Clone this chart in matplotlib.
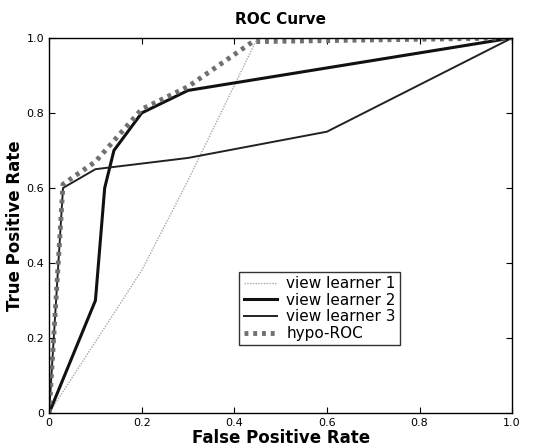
import matplotlib
matplotlib.use("Agg")
import matplotlib.pyplot as plt

# ROC curve data
fpr_1 = [0.0, 0.1, 0.2, 0.3, 0.45, 1.0]
tpr_1 = [0.0, 0.19, 0.38, 0.62, 1.0, 1.0]

fpr_2 = [0.0, 0.1, 0.12, 0.14, 0.2, 0.3, 1.0]
tpr_2 = [0.0, 0.3, 0.6, 0.7, 0.8, 0.86, 1.0]

fpr_3 = [0.0, 0.03, 0.1, 0.3, 0.6, 1.0]
tpr_3 = [0.0, 0.6, 0.65, 0.68, 0.75, 1.0]

fpr_h = [0.0, 0.03, 0.1, 0.2, 0.3, 0.44, 1.0]
tpr_h = [0.0, 0.61, 0.67, 0.81, 0.87, 0.99, 1.0]

labels = ["view learner 1", "view learner 2", "view learner 3", "hypo-ROC"]
ticks = [0, 0.2, 0.4, 0.6, 0.8, 1.0]
tick_labels = ["0", "0.2", "0.4", "0.6", "0.8", "1.0"]

fig = plt.figure(figsize=(5.34, 4.46), dpi=100)
ax = fig.add_axes([0.092, 0.074, 0.867, 0.841])

ax.plot(fpr_1, tpr_1, color="#a8a8a8", lw=1.0, ls=(0, (1, 1)), label=labels[0])
ax.plot(fpr_2, tpr_2, color="#111111", lw=2.2, label=labels[1])
ax.plot(fpr_3, tpr_3, color="#222222", lw=1.4, label=labels[2])
ax.plot(fpr_h, tpr_h, color="#707070", lw=3.5, ls=(0, (0.8, 1.0)), label=labels[3])

ax.set_xlim(0, 1)
ax.set_ylim(0, 1)
ax.set_xticks(ticks)
ax.set_xticklabels(tick_labels)
ax.set_yticks(ticks)
ax.set_yticklabels(tick_labels)
ax.tick_params(direction="in", top=True, right=True, labelsize=8, length=4)
for s in ax.spines.values():
    s.set_linewidth(1.0)

ax.set_title("ROC Curve", fontsize=11, fontweight="bold", pad=10)
ax.set_xlabel("False Positive Rate", fontsize=12, fontweight="bold", labelpad=1)
ax.set_ylabel("True Positive Rate", fontsize=12, fontweight="bold", labelpad=2)

leg = ax.legend(loc="lower left", bbox_to_anchor=(0.41, 0.18), fontsize=11,
                frameon=True, fancybox=False, edgecolor="black",
                handlelength=2.2, borderpad=0.3, labelspacing=0.1,
                handletextpad=0.6, borderaxespad=0)
leg.get_frame().set_linewidth(1.0)

fig.savefig("out.png", dpi=100)
